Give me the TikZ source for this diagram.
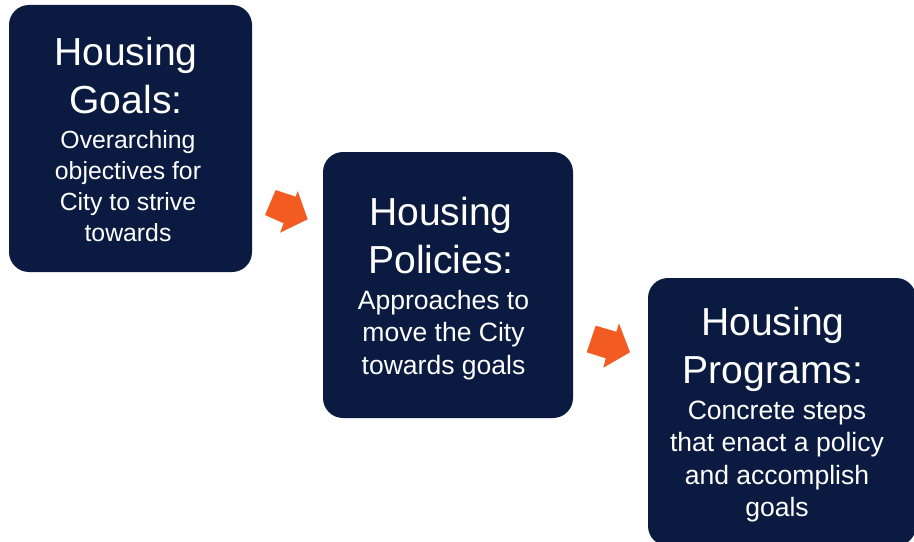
\documentclass[tikz,border=0pt]{standalone}
\usepackage{fontspec}
\setmainfont{Liberation Sans}
\definecolor{navy}{RGB}{11,26,64}
\definecolor{flame}{RGB}{242,92,34}

\begin{document}
\begin{tikzpicture}[x=0.75pt,y=-0.75pt,
  card/.style={fill=navy,rounded corners=15pt,inner sep=0pt},
  head/.style={text=white,align=center,inner sep=0pt,font=\fontsize{29.3}{36}\selectfont},
  body/.style={text=white,align=center,inner sep=0pt,font=\fontsize{18.6}{23.4}\selectfont},
  bigbody/.style={body,font=\fontsize{19.9}{24.2}\selectfont}]
\useasboundingbox (0,0) rectangle (914,542);
% Goals
\node[card,minimum width=182.25pt,minimum height=200.25pt] (goals) at (130.5,138.5) {};
\node[head] (goalshead) at (126,76) {Housing\\Goals:};
\node[body] (goalsbody) at (128,186) {Overarching\\objectives for\\City to strive\\towards};
% Policies
\node[card,minimum width=187.5pt,minimum height=199.5pt] (policies) at (448,285) {};
\node[head] (policieshead) at (441,235.5) {Housing\\Policies:};
\node[bigbody] (policiesbody) at (443.5,335) {Approaches to\\move the City\\towards goals};
% Programs
\node[card,minimum width=201pt,minimum height=201pt] (programs) at (782,412) {};
\node[head] (programshead) at (773,349) {Housing\\Programs:};
\node[bigbody] (programsbody) at (777,461.5) {Concrete steps\\that enact a policy\\and accomplish\\goals};
% Arrows
\fill[flame] (275.7,190) -- (295.7,196.7) -- (297.7,191) -- (307.7,219.3)
  -- (280,232.7) -- (283.7,223.3) -- (265,215) -- cycle; % goals to policies
\fill[flame] (595.7,325.7) -- (616.3,331.7) -- (619,323.3) -- (630,352.3)
  -- (603.3,367.7) -- (605.7,358.3) -- (586.7,352.3) -- cycle; % policies to programs
\end{tikzpicture}
\end{document}
